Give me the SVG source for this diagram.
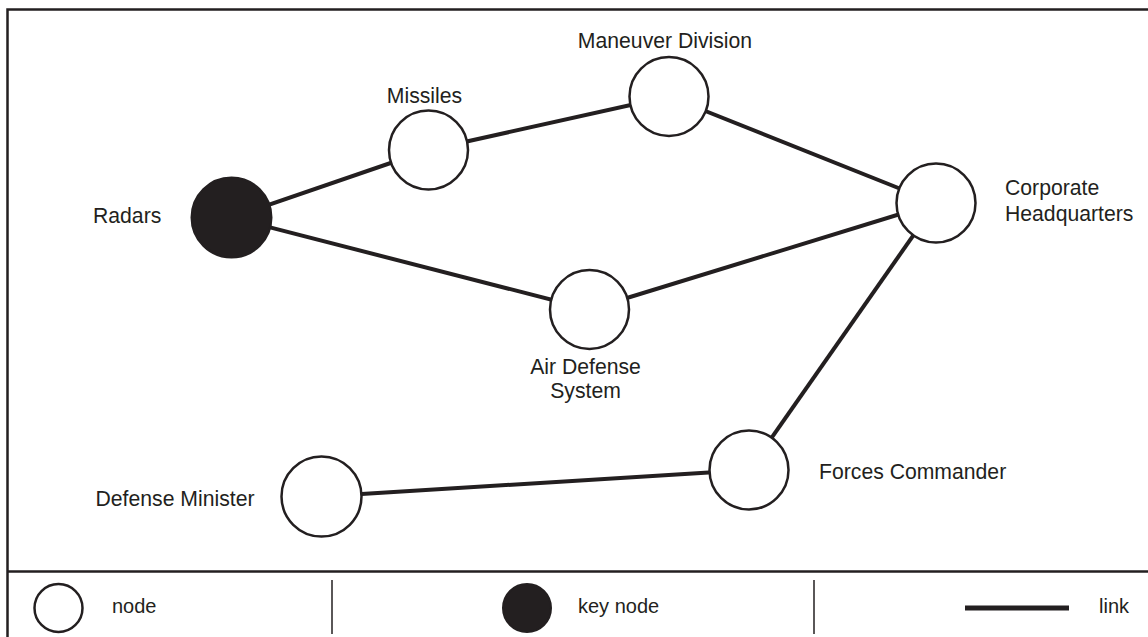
<svg xmlns="http://www.w3.org/2000/svg" width="1148" height="637" viewBox="0 0 1148 637">
  <style>
    .frame { fill: none; stroke: #231f20; stroke-width: 2.5; }
    .link { stroke: #231f20; stroke-width: 4; stroke-linecap: butt; }
    .node { fill: #ffffff; stroke: #231f20; stroke-width: 2.5; }
    .key { fill: #231f20; stroke: #231f20; stroke-width: 2; }
    .label { font-family: "Liberation Sans", Arial, sans-serif; font-size: 21.2px; fill: #231f20; }
    .legend-text { font-family: "Liberation Sans", Arial, sans-serif; font-size: 20px; fill: #231f20; }
    .divider { stroke: #231f20; stroke-width: 1.5; }
  </style>
  <rect width="1148" height="637" fill="#ffffff"/>

  <!-- outer frame (runs past the right and bottom edges) -->
  <rect class="frame" x="7.5" y="9.5" width="1200" height="700"/>
  <line class="frame" x1="7.5" y1="571.5" x2="1148" y2="571.5"/>

  <!-- connectors -->
  <g id="links">
    <line class="link" x1="231.5" y1="217.5" x2="428.5" y2="150"/>
    <line class="link" x1="428.5" y1="150" x2="669" y2="96.5"/>
    <line class="link" x1="669" y1="96.5" x2="936" y2="203"/>
    <line class="link" x1="231.5" y1="217.5" x2="589.5" y2="309.5"/>
    <line class="link" x1="589.5" y1="309.5" x2="936" y2="203"/>
    <line class="link" x1="936" y1="203" x2="749" y2="470"/>
    <line class="link" x1="749" y1="470" x2="321.5" y2="496.5"/>
  </g>

  <g id="radars">
    <circle class="key" cx="231.5" cy="217.5" r="40"/>
    <text class="label" x="93" y="223">Radars</text>
  </g>
  <g id="missiles">
    <circle class="node" cx="428.5" cy="150" r="39.5"/>
    <text class="label" x="424.5" y="102.5" text-anchor="middle">Missiles</text>
  </g>
  <g id="maneuver-division">
    <circle class="node" cx="669" cy="96.5" r="39.5"/>
    <text class="label" x="665" y="48" text-anchor="middle">Maneuver Division</text>
  </g>
  <g id="corporate-headquarters">
    <circle class="node" cx="936" cy="203" r="39.5"/>
    <text class="label" x="1005" y="195">Corporate</text>
    <text class="label" x="1005" y="221">Headquarters</text>
  </g>
  <g id="air-defense-system">
    <circle class="node" cx="589.5" cy="309.5" r="39.5"/>
    <text class="label" x="585.5" y="374" text-anchor="middle">Air Defense</text>
    <text class="label" x="585.5" y="398" text-anchor="middle">System</text>
  </g>
  <g id="forces-commander">
    <circle class="node" cx="749" cy="470" r="39.5"/>
    <text class="label" x="819" y="479">Forces Commander</text>
  </g>
  <g id="defense-minister">
    <circle class="node" cx="321.5" cy="496.5" r="40"/>
    <text class="label" x="254.5" y="505.5" text-anchor="end">Defense Minister</text>
  </g>

  <!-- legend -->
  <g id="legend">
    <circle class="node" cx="58.5" cy="608" r="24"/>
    <text class="legend-text" x="112" y="613">node</text>
    <line class="divider" x1="332" y1="580" x2="332" y2="634"/>
    <circle class="key" cx="527" cy="608" r="24"/>
    <text class="legend-text" x="578" y="613">key node</text>
    <line class="divider" x1="814" y1="580" x2="814" y2="634"/>
    <line class="link" x1="965" y1="608" x2="1069" y2="608" style="stroke-width:5"/>
    <text class="legend-text" x="1099" y="613">link</text>
  </g>
</svg>
